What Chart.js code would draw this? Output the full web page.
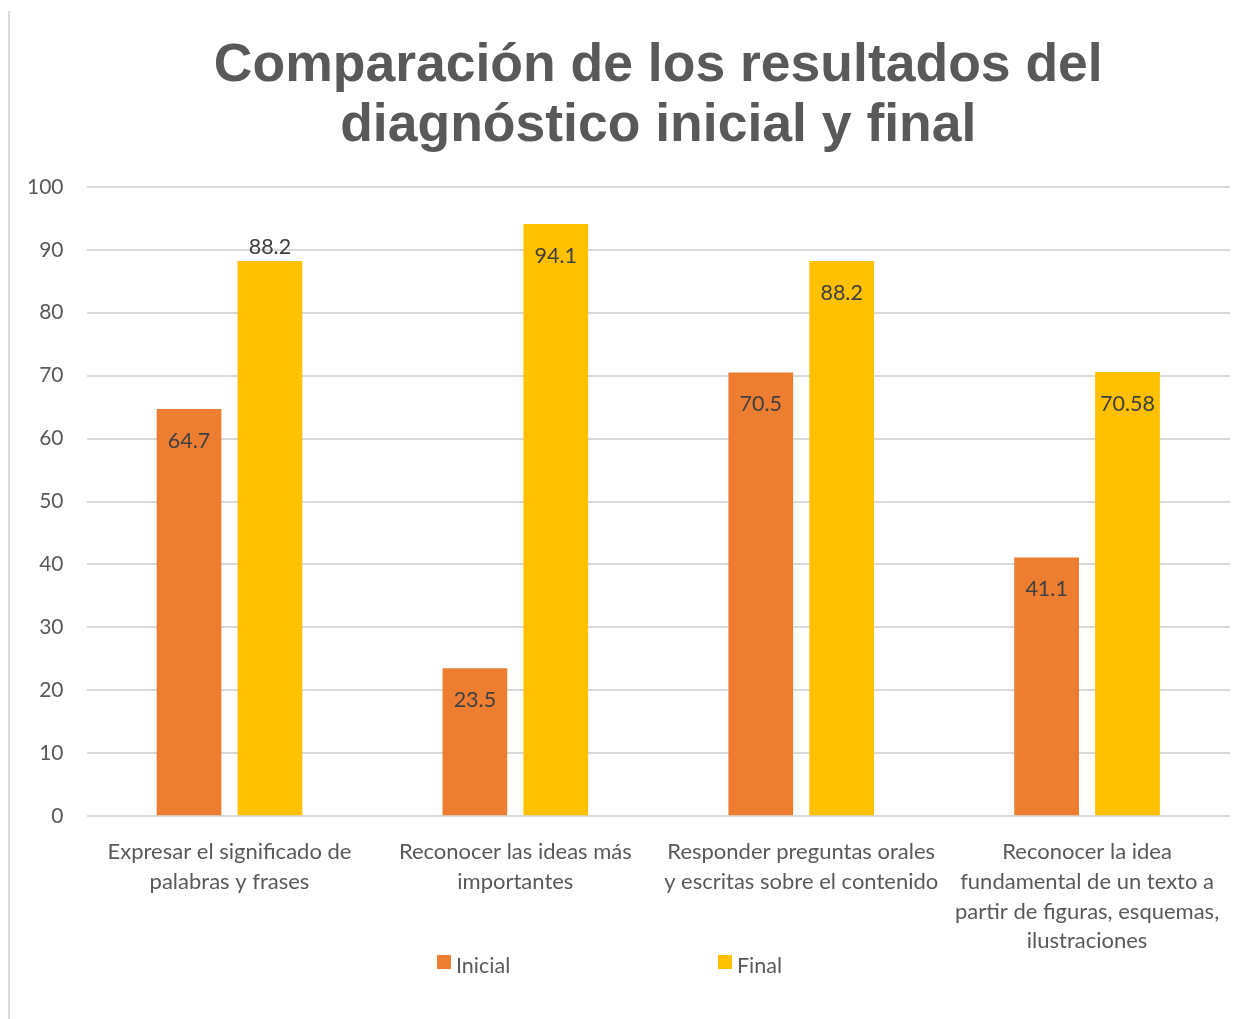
<!DOCTYPE html>
<html>
<head>
<meta charset="utf-8">
<script src="https://cdn.jsdelivr.net/npm/chart.js@4"></script>
<style>
  body { margin: 0; background: #fff; }
</style>
</head>
<body>
<canvas id="chart" width="1253" height="1019"></canvas>
<script>
var categories = [
  ["Expresar el significado de", "palabras y frases"],
  ["Reconocer las ideas más", "importantes"],
  ["Responder preguntas orales", "y escritas sobre el contenido"],
  ["Reconocer la idea", "fundamental de un texto a", "partir de figuras, esquemas,", "ilustraciones"]
];
var inicial = [64.7, 23.5, 70.5, 41.1];
var final = [88.2, 94.1, 88.2, 70.58];
var inicialLabels = ["64.7", "23.5", "70.5", "41.1"];
var finalLabels = ["88.2", "94.1", "88.2", "70.58"];
// which labels sit above the bar instead of inside the top
var labelAbove = [[false, false, false, false], [true, false, false, false]];

var textColor = "#595959";
var gridColor = "#d9d9d9";

var frame = {
  id: "frame",
  beforeDraw: function (chart) {
    var ctx = chart.ctx;
    ctx.save();
    ctx.fillStyle = "#fff";
    ctx.fillRect(0, 0, chart.width, chart.height);
    ctx.strokeStyle = gridColor;
    ctx.lineWidth = 2;
    ctx.beginPath();
    ctx.moveTo(9, 11);
    ctx.lineTo(9, chart.height);
    ctx.stroke();
    ctx.restore();
  }
};

// centre the title over the plot area, like the original
var titleOverPlot = {
  id: "titleOverPlot",
  afterLayout: function (chart) {
    if (chart.titleBlock) {
      chart.titleBlock.left = chart.chartArea.left;
      chart.titleBlock.right = chart.chartArea.right;
    }
  }
};

var valueLabels = {
  id: "valueLabels",
  afterDatasetsDraw: function (chart) {
    var ctx = chart.ctx;
    var texts = [inicialLabels, finalLabels];
    ctx.save();
    ctx.font = "21.5px Lato";
    ctx.fillStyle = "#404040";
    ctx.textAlign = "center";
    ctx.textBaseline = "middle";
    chart.data.datasets.forEach(function (ds, di) {
      chart.getDatasetMeta(di).data.forEach(function (bar, i) {
        var y = labelAbove[di][i] ? bar.y - 14 : bar.y + 32;
        ctx.fillText(texts[di][i], bar.x, y);
      });
    });
    ctx.restore();
  }
};

// legend with the wide spacing of the original
var wideLegend = {
  id: "wideLegend",
  afterDraw: function (chart) {
    var ctx = chart.ctx;
    var xs = [437, 718];
    var y = 955;
    ctx.save();
    ctx.font = "21.5px Lato";
    ctx.textBaseline = "middle";
    ctx.textAlign = "left";
    chart.data.datasets.forEach(function (ds, i) {
      ctx.fillStyle = ds.backgroundColor;
      ctx.fillRect(xs[i], y, 14, 14);
      ctx.fillStyle = textColor;
      ctx.fillText(ds.label, xs[i] + 19, y + 11);
    });
    ctx.restore();
  }
};

new Chart(document.getElementById("chart"), {
  type: "bar",
  data: {
    labels: categories,
    datasets: [
      { label: "Inicial", data: inicial, backgroundColor: "#ED7D31",
        categoryPercentage: 0.566, barPercentage: 0.8 },
      { label: "Final", data: final, backgroundColor: "#FFC000",
        categoryPercentage: 0.566, barPercentage: 0.8 }
    ]
  },
  plugins: [frame, titleOverPlot, valueLabels, wideLegend],
  options: {
    responsive: false,
    animation: false,
    layout: { padding: { left: 4, right: 23, top: 20, bottom: 50 } },
    plugins: {
      title: {
        display: true,
        text: ["Comparación de los resultados del", "diagnóstico inicial y final"],
        color: textColor,
        font: { family: "'Liberation Sans', Arial, sans-serif", size: 53.5, weight: "bold", lineHeight: 1.12 },
        padding: { top: 16, bottom: 31 }
      },
      legend: { display: false },
      tooltip: { enabled: false }
    },
    scales: {
      x: {
        grid: { display: false },
        border: { display: false },
        ticks: {
          color: textColor,
          font: { family: "Lato", size: 22, lineHeight: 1.35 },
          maxRotation: 0,
          autoSkip: false,
          padding: 13
        }
      },
      y: {
        min: 0,
        max: 100,
        grid: { color: gridColor, lineWidth: 2, drawTicks: false },
        border: { display: false },
        ticks: {
          stepSize: 10,
          color: textColor,
          font: { family: "Lato", size: 21 },
          padding: 23
        }
      }
    }
  }
});
</script>
</body>
</html>
